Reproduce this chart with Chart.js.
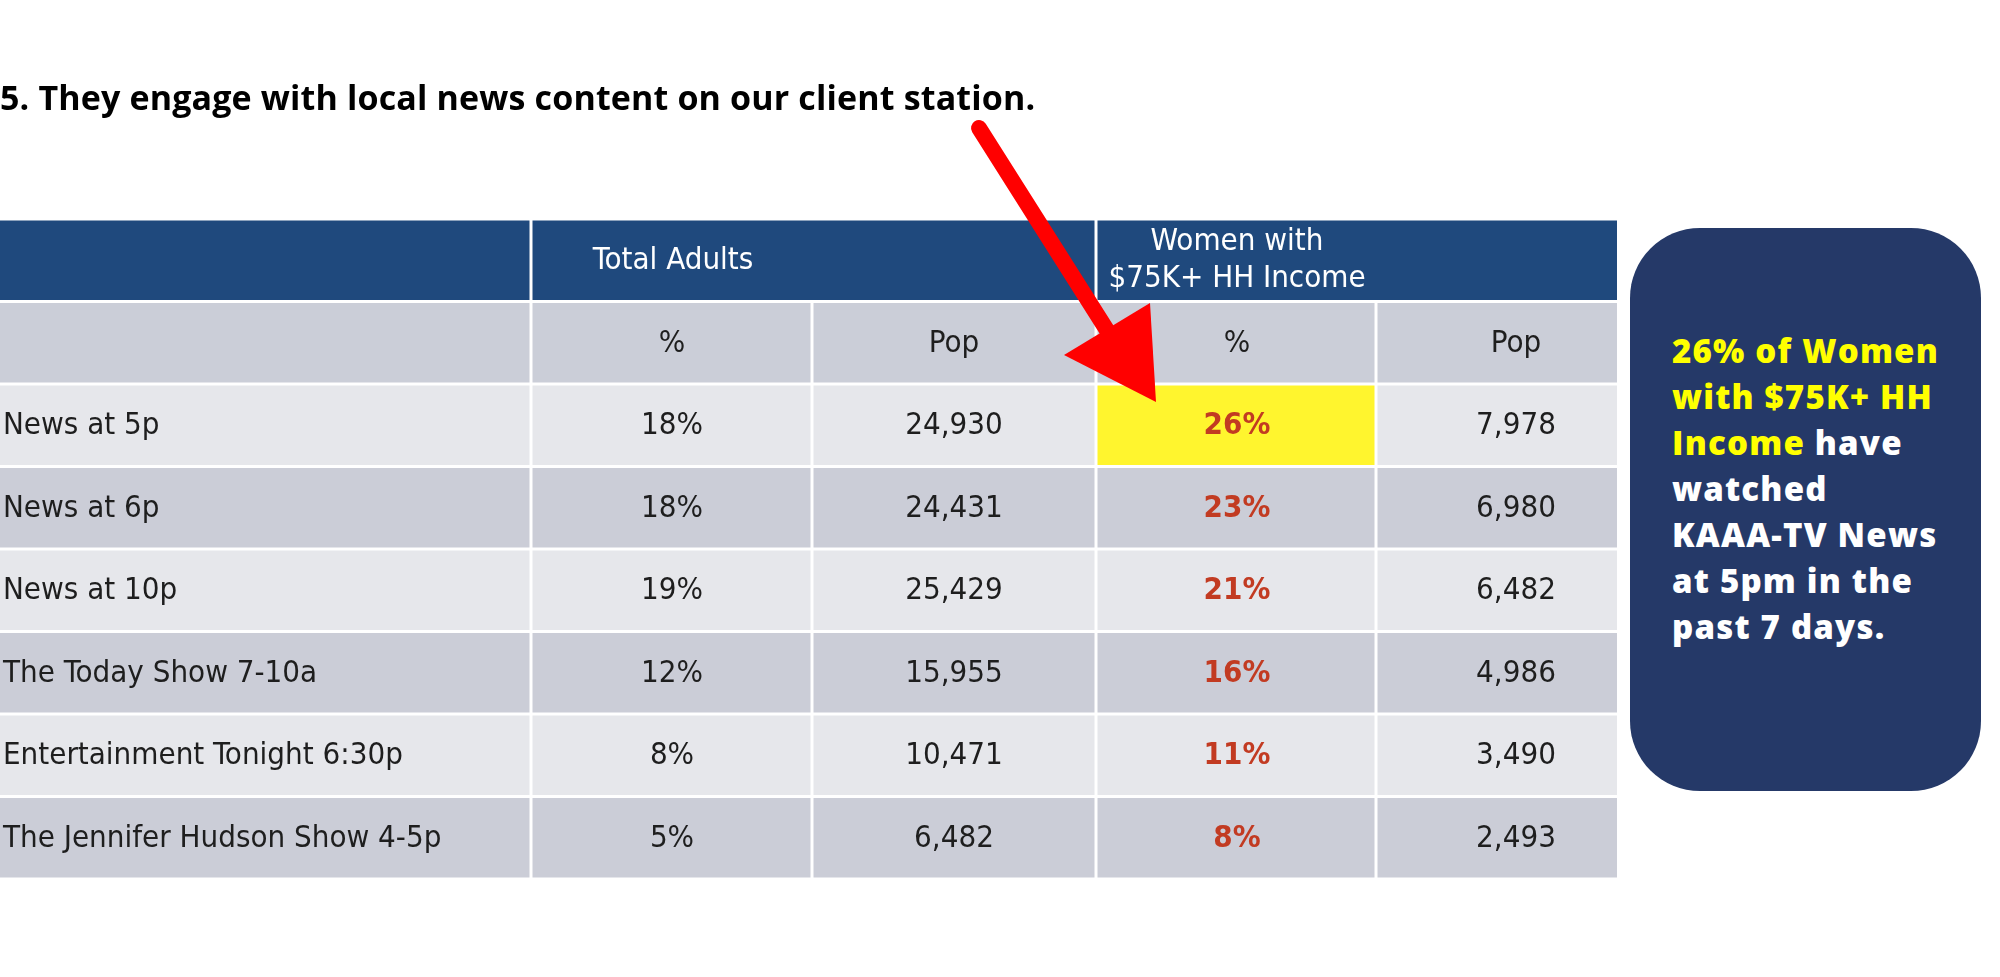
<!DOCTYPE html>
<html>
<head>
<meta charset="utf-8">
<script src="https://cdn.jsdelivr.net/npm/chart.js@4.4.0/dist/chart.umd.min.js"></script>
<style>
  html, body { margin: 0; padding: 0; background: #fff; }
  #wrap { position: relative; width: 2000px; height: 977px; overflow: hidden; }
  #chart { position: absolute; left: 0; top: 0; }
  #title {
    position: absolute; left: 0; top: 77px; margin: 0;
    font: 700 34px/40px "Open Sans", sans-serif; letter-spacing: 0.15px;
    color: #000; white-space: nowrap;
  }
  #note {
    position: absolute; left: 1630px; top: 228px; width: 351px; height: 563px;
    background: #253968; border-radius: 70px; box-sizing: border-box;
    padding: 100px 0 0 42px;
    font: 800 33px/46px "Open Sans", sans-serif; letter-spacing: 1.2px;
    color: #fff; white-space: nowrap;
  }
  #note .hi { color: #ffff00; }
</style>
</head>
<body>
<div id="wrap">
  <canvas id="chart" width="2000" height="977"></canvas>
  <p id="title">5. They engage with local news content on our client station.</p>
  <div id="note">
    <span class="hi">26% of Women</span><br>
    <span class="hi">with $75K+ HH</span><br>
    <span class="hi">Income</span> have<br>
    watched<br>
    KAAA-TV News<br>
    at 5pm in the<br>
    past 7 days.
  </div>
</div>
<script>
// 表のデータ
const programs = [
  "News at 5p",
  "News at 6p",
  "News at 10p",
  "The Today Show 7-10a",
  "Entertainment Tonight 6:30p",
  "The Jennifer Hudson Show 4-5p"
];
const totalPct = ["18%", "18%", "19%", "12%", "8%", "5%"];
const totalPop = ["24,930", "24,431", "25,429", "15,955", "10,471", "6,482"];
const womenPct = ["26%", "23%", "21%", "16%", "11%", "8%"];
const womenPop = ["7,978", "6,980", "6,482", "4,986", "3,490", "2,493"];
const groupHeaders = ["Total Adults", ["Women with", "$75K+ HH Income"]];
const subHeaders = ["%", "Pop", "%", "Pop"];
const highlightRow = 0; // 黄色にするセル(womenPct の行)

// レイアウト(表の横幅を px 単位の軸にする)
const colEdges = [0, 531, 812, 1096, 1376, 1617];
const textX = [3, 672, 954, 1237, 1516];
const groupTextX = [673, 1237];

const rowKeys = ["group", "sub"].concat(programs);
const gap = 1.5;

// 各列のセル(浮いた棒)を作る
function cellRange(c) {
  const a = c === 0 ? 0 : colEdges[c] + gap;
  const b = c === colEdges.length - 2 ? colEdges[c + 1] : colEdges[c + 1] - gap;
  return [a, b];
}

const datasets = [];
for (let c = 0; c < 5; c++) {
  const data = [];
  const colors = [];
  rowKeys.forEach((k, r) => {
    if (r === 0) {
      // 見出し行はグループ単位で結合
      if (c === 0) data.push(cellRange(0));
      else if (c === 1) data.push([colEdges[1] + gap, colEdges[3] - gap]);
      else if (c === 3) data.push([colEdges[3] + gap, colEdges[5]]);
      else data.push(null);
      colors.push("#1f497d");
    } else if (r === 1) {
      data.push(cellRange(c));
      colors.push("#cbced8");
    } else {
      data.push(cellRange(c));
      const i = r - 2;
      if (c === 3 && i === highlightRow) colors.push("#fff52e");
      else colors.push(i % 2 === 0 ? "#e6e7eb" : "#cbcdd7");
    }
  });
  datasets.push({
    data: data,
    backgroundColor: colors,
    borderWidth: 0,
    borderSkipped: false,
    grouped: false,
    categoryPercentage: 1,
    barPercentage: 0.962
  });
}

// セルの文字と矢印を描くプラグイン
const cellText = {
  id: "cellText",
  afterDatasetsDraw(chart) {
    const ctx = chart.ctx;
    const xs = chart.scales.x;
    const ys = chart.scales.y;
    const font = '31px "DejaVu Sans Condensed", "DejaVu Sans", sans-serif';
    ctx.save();
    ctx.textBaseline = "middle";

    // 見出し
    ctx.fillStyle = "#ffffff";
    ctx.font = font;
    ctx.textAlign = "center";
    const y0 = ys.getPixelForValue(0);
    ctx.fillText(groupHeaders[0], xs.getPixelForValue(groupTextX[0]), y0 + 1);
    ctx.fillText(groupHeaders[1][0], xs.getPixelForValue(groupTextX[1]), y0 - 18);
    ctx.fillText(groupHeaders[1][1], xs.getPixelForValue(groupTextX[1]), y0 + 19);

    // 小見出し
    ctx.fillStyle = "#1e1e1e";
    const y1 = ys.getPixelForValue(1);
    subHeaders.forEach((s, i) => {
      ctx.fillText(s, xs.getPixelForValue(textX[i + 1]), y1 + 1);
    });

    // データ行
    programs.forEach((p, i) => {
      const y = ys.getPixelForValue(i + 2) + 1;
      ctx.font = font;
      ctx.fillStyle = "#1e1e1e";
      ctx.textAlign = "left";
      ctx.fillText(p, xs.getPixelForValue(textX[0]), y);
      ctx.textAlign = "center";
      ctx.fillText(totalPct[i], xs.getPixelForValue(textX[1]), y);
      ctx.fillText(totalPop[i], xs.getPixelForValue(textX[2]), y);
      ctx.fillText(womenPop[i], xs.getPixelForValue(textX[4]), y);
      ctx.font = 'bold ' + font;
      ctx.fillStyle = "#c23b22";
      ctx.fillText(womenPct[i], xs.getPixelForValue(textX[3]), y);
    });

    // 赤い矢印
    ctx.strokeStyle = "#ff0000";
    ctx.fillStyle = "#ff0000";
    ctx.lineWidth = 16;
    ctx.lineCap = "round";
    ctx.beginPath();
    ctx.moveTo(979, 128);
    ctx.lineTo(1110, 335);
    ctx.stroke();
    ctx.beginPath();
    ctx.moveTo(1064, 355);
    ctx.lineTo(1150, 303);
    ctx.lineTo(1156, 402);
    ctx.closePath();
    ctx.fill();
    ctx.restore();
  }
};

new Chart(document.getElementById("chart"), {
  type: "bar",
  data: { labels: rowKeys, datasets: datasets },
  options: {
    indexAxis: "y",
    responsive: false,
    devicePixelRatio: 1,
    animation: false,
    layout: { padding: { left: 0, top: 219, right: 383, bottom: 98 } },
    scales: {
      x: { type: "linear", min: colEdges[0], max: colEdges[colEdges.length - 1], display: false },
      y: { type: "category", display: false }
    },
    plugins: { legend: { display: false }, tooltip: { enabled: false } }
  },
  plugins: [cellText]
});
</script>
</body>
</html>
